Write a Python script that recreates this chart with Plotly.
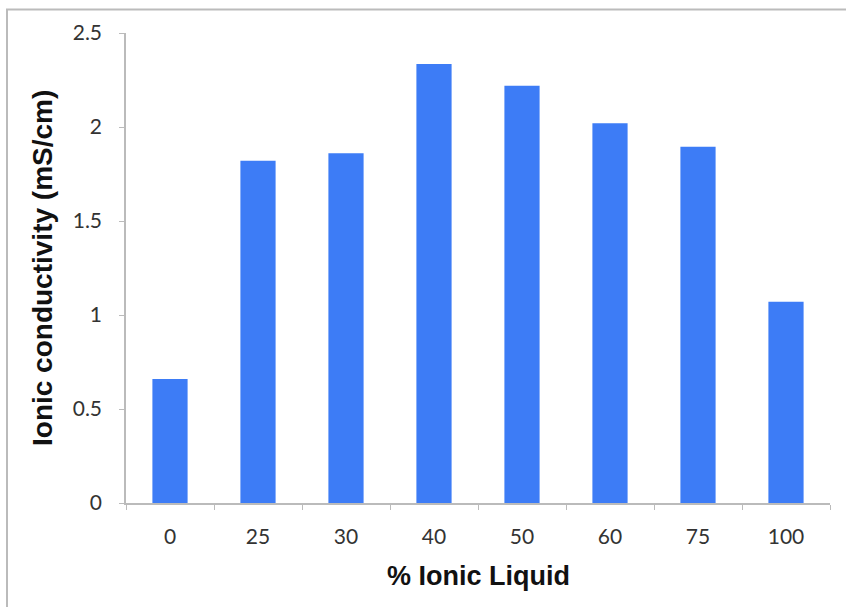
import plotly.graph_objects as go

categories = ["0", "25", "30", "40", "50", "60", "75", "100"]
conductivity = [0.66, 1.82, 1.86, 2.335, 2.22, 2.02, 1.895, 1.07]
y_ticks = [0, 0.5, 1, 1.5, 2, 2.5]
y_tick_labels = ["0", "0.5", "1", "1.5", "2", "2.5"]

W, H = 846, 607
L, R, T, B = 126, 16, 33, 104
pw = W - L - R
ph = H - T - B

def px_x(p):
    return (p - L) / pw

def px_y(p):
    return (H - B - p) / ph

fig = go.Figure()
fig.add_trace(go.Bar(
    x=categories, y=conductivity,
    marker=dict(color="#3D7CF6", line=dict(width=0)),
))

fig.update_layout(
    width=W, height=H,
    margin=dict(l=L, r=R, t=T, b=B),
    paper_bgcolor="white", plot_bgcolor="white",
    bargap=0.6,
    showlegend=False,
    font=dict(family="Lato, 'Open Sans', sans-serif", size=21, color="#333333"),
    xaxis=dict(
        type="category",
        showline=True, linecolor="#BBBBBB", linewidth=1.5,
        ticks="outside", tickson="boundaries", ticklen=5, tickcolor="#BBBBBB",
        showgrid=False, ticklabelstandoff=14,
    ),
    yaxis=dict(
        range=[0, 2.5], tickvals=y_ticks, ticktext=y_tick_labels,
        showline=True, linecolor="#BBBBBB", linewidth=1.5,
        ticks="outside", ticklen=5, tickcolor="#BBBBBB",
        showgrid=False, zeroline=False, ticklabelstandoff=13,
    ),
    annotations=[
        dict(text="<b>Ionic conductivity (mS/cm)</b>", xref="paper", yref="paper",
             x=px_x(42), y=px_y(268), xanchor="center", yanchor="middle",
             textangle=-90, showarrow=False,
             font=dict(family="Liberation Sans, Arial, sans-serif", size=28, color="#111111")),
        dict(text="<b>% Ionic Liquid</b>", xref="paper", yref="paper",
             x=px_x(478), y=px_y(576), xanchor="center", yanchor="middle",
             showarrow=False,
             font=dict(family="Liberation Sans, Arial, sans-serif", size=27, color="#111111")),
    ],
    shapes=[
        dict(type="rect", xref="paper", yref="paper",
             x0=px_x(7), x1=px_x(860), y0=px_y(620), y1=px_y(9.5),
             line=dict(color="#BBBBBB", width=2), fillcolor="rgba(0,0,0,0)", layer="below"),
    ],
)

fig.write_html("out.html")
